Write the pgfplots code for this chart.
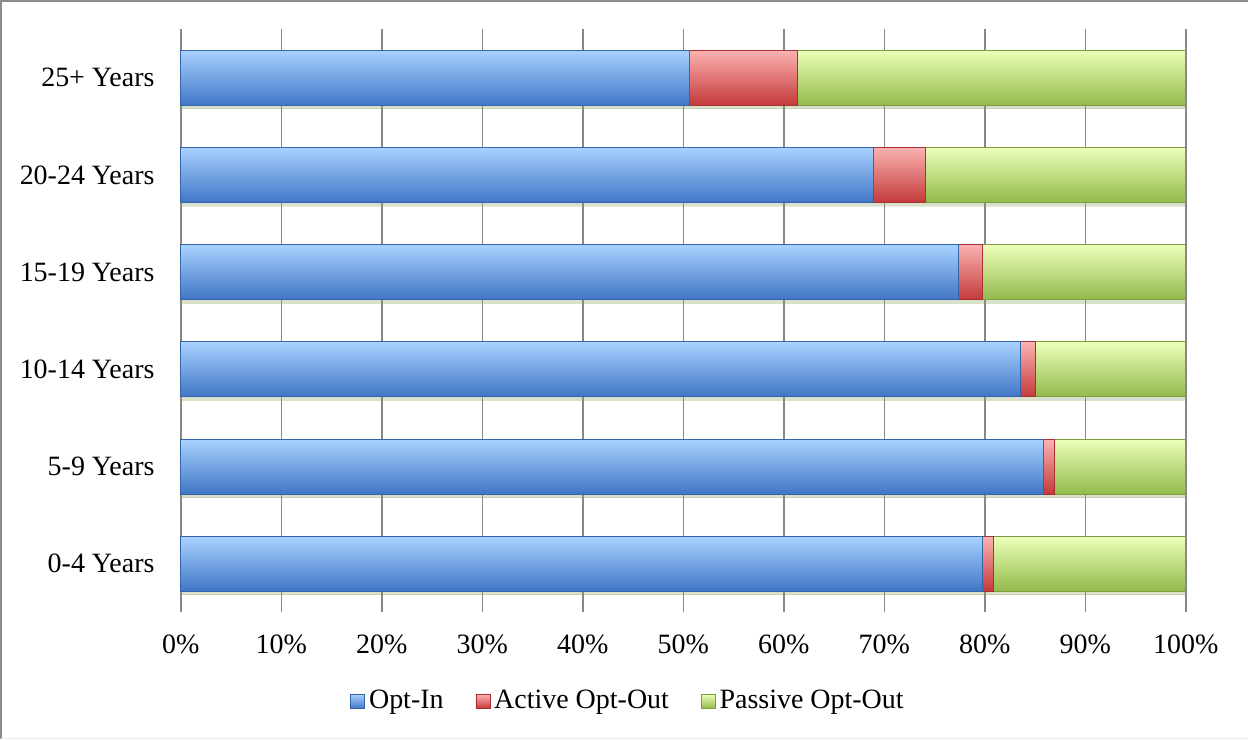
\documentclass[border=0pt]{standalone}
\usepackage{pgfplots}
\pgfplotsset{compat=1.18}
\usetikzlibrary{shadows}
\usepackage{fontspec}
\setmainfont{Liberation Serif}

\definecolor{bluetop}{RGB}{168,210,255}
\definecolor{bluemid}{RGB}{112,165,238}
\definecolor{bluebot}{RGB}{64,118,198}
\definecolor{redtop}{RGB}{252,178,178}
\definecolor{redmid}{RGB}{238,114,114}
\definecolor{redbot}{RGB}{196,58,58}
\definecolor{greentop}{RGB}{236,255,185}
\definecolor{greenmid}{RGB}{206,240,138}
\definecolor{greenbot}{RGB}{146,186,76}
\definecolor{framegray}{RGB}{140,140,140}
\definecolor{gridgray}{RGB}{135,135,135}

\pgfplotsset{
    optin/.style={draw=bluebot!85!black, line width=0.4pt,
        top color=bluetop, middle color=bluemid, bottom color=bluebot},
    activeout/.style={draw=redbot!85!black, line width=0.4pt,
        top color=redtop, middle color=redmid, bottom color=redbot},
    passiveout/.style={draw=greenbot!85!black, line width=0.4pt,
        top color=greentop, middle color=greenmid, bottom color=greenbot},
    barshadow/.style={drop shadow={opacity=0.18, shadow xshift=0pt, shadow yshift=-1.8pt}},
}

% one row: category position, where Opt-In ends, where Active Opt-Out ends (in %)
% bars are drawn one by one (longest first) so that each one gets its own shading
\newcommand{\agebar}[3]{%
    \addplot[passiveout, barshadow, forget plot] coordinates {(100,#1)};
    \addplot[activeout, forget plot] coordinates {(#3,#1)};
    \addplot[optin, forget plot] coordinates {(#2,#1)};
}

\begin{document}
\fontsize{14}{16}\selectfont
\begin{tikzpicture}
\begin{axis}[
    scale only axis,
    width=503pt, height=292pt,
    xbar,
    bar width=27.5pt,
    bar shift=0pt,
    xmin=0, xmax=100,
    ymin=-0.5, ymax=5.5,
    xtick={0,10,...,100},
    xticklabels={0\%,10\%,20\%,30\%,40\%,50\%,60\%,70\%,80\%,90\%,100\%},
    ytick={0,...,5},
    yticklabels={0-4 Years,5-9 Years,10-14 Years,15-19 Years,20-24 Years,25+ Years},
    xmajorgrids,
    grid style={gridgray, line width=0.8pt},
    axis line style={draw=none},
    major tick length=0pt,
    tick style={draw=none},
    ticklabel style={font=\fontsize{14}{16}\selectfont},
    xticklabel style={inner sep=0pt, yshift=-11pt},
    yticklabel style={inner sep=0pt, xshift=-13pt},
    legend style={
        draw=none, fill=none,
        at={(0.446,0)}, anchor=center, yshift=-44.5pt,
        legend columns=-1,
        font=\fontsize{14}{16}\selectfont,
        /tikz/every even column/.append style={column sep=14pt},
        inner sep=0pt,
    },
    legend image code/.code={%
        \draw[#1, line width=0.3pt] (0pt,-3.5pt) rectangle (7pt,3.5pt);},
    clip=false,
]
\coordinate (o) at (rel axis cs:0,0);
\draw[gridgray, line width=0.8pt] (rel axis cs:0,0) -- (rel axis cs:0,1);
\agebar{0}{79.8}{80.8}
\agebar{1}{85.8}{86.9}
\agebar{2}{83.5}{85.0}
\agebar{3}{77.4}{79.8}
\agebar{4}{68.9}{74.1}
\agebar{5}{50.6}{61.3}
\addlegendimage{optin}
\addlegendentry{Opt-In}
\addlegendimage{activeout}
\addlegendentry{Active Opt-Out}
\addlegendimage{passiveout}
\addlegendentry{Passive Opt-Out}
\end{axis}
% outer frame of the chart area
\path ([shift={(-90.5pt,-63.5pt)}]o) rectangle ([shift={(534pt,306.5pt)}]o);
\draw[framegray, line width=1.2pt] ([shift={(-89.9pt,-63.5pt)}]o) -- ([shift={(-89.9pt,305.9pt)}]o) -- ([shift={(534pt,305.9pt)}]o);
\draw[black!8, line width=0.6pt] ([shift={(-89.9pt,-63.2pt)}]o) -- ([shift={(534pt,-63.2pt)}]o);
\end{tikzpicture}
\end{document}
